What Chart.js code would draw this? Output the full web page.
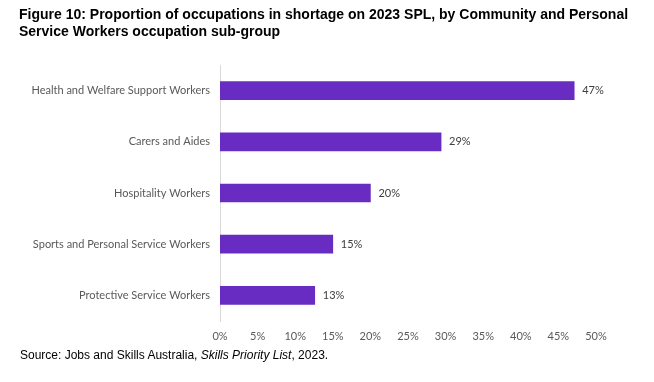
<!DOCTYPE html>
<html>
<head>
<meta charset="utf-8">
<script src="https://cdn.jsdelivr.net/npm/chart.js@4.4.1/dist/chart.umd.min.js"></script>
<style>
  html, body { margin: 0; padding: 0; background: #fff; }
  #wrap { position: relative; width: 654px; height: 382px; overflow: hidden; }
  #title { position: absolute; left: 19px; top: 6px; font-family: "Liberation Sans", Arial, sans-serif; font-weight: bold; font-size: 14px; line-height: 17px; color: #000; }
  #source { position: absolute; left: 20px; top: 348px; font-family: "Liberation Sans", Arial, sans-serif; font-size: 12px; color: #000; }
  canvas { position: absolute; left: 0; top: 0; }
</style>
</head>
<body>
<div id="wrap">
  <canvas id="c" width="654" height="382"></canvas>
  <div id="title">Figure 10: Proportion of occupations in shortage on 2023 SPL, by Community and Personal<br>Service Workers occupation sub-group</div>
  <div id="source">Source: Jobs and Skills Australia, <i>Skills Priority List</i>, 2023.</div>
</div>
<script>
const categories = [
  "Health and Welfare Support Workers",
  "Carers and Aides",
  "Hospitality Workers",
  "Sports and Personal Service Workers",
  "Protective Service Workers"
];
const values = [47.1, 29.4, 20, 15, 12.6];
const xTicks = [0, 5, 10, 15, 20, 25, 30, 35, 40, 45, 50];

const valueLabels = {
  id: 'valueLabels',
  afterDatasetsDraw(chart) {
    const ctx = chart.ctx;
    const meta = chart.getDatasetMeta(0);
    ctx.save();
    ctx.font = '11px Lato, "Open Sans", sans-serif';
    ctx.fillStyle = '#404040';
    ctx.textAlign = 'left';
    ctx.textBaseline = 'middle';
    meta.data.forEach((bar, i) => {
      ctx.fillText(Math.round(values[i]) + '%', bar.x + 8, bar.y);
    });
    ctx.restore();
  }
};

new Chart(document.getElementById('c'), {
  type: 'bar',
  data: {
    labels: categories,
    datasets: [{
      data: values,
      backgroundColor: '#692cc2',
      borderWidth: 0,
      barThickness: 18
    }]
  },
  options: {
    indexAxis: 'y',
    responsive: false,
    animation: false,
    layout: { padding: { top: 65, right: 58, bottom: 31, left: 0 } },
    plugins: { legend: { display: false }, tooltip: { enabled: false }, title: { display: false } },
    scales: {
      x: {
        min: 0, max: 50,
        afterBuildTicks(scale) { scale.ticks = xTicks.map(v => ({ value: v })); },
        afterFit(scale) { scale.height = 30; },
        grid: { display: false, drawTicks: false },
        border: { display: false },
        ticks: {
          padding: 9,
          color: '#595959',
          font: { family: 'Lato, "Open Sans", sans-serif', size: 11 },
          callback: v => v + '%'
        }
      },
      y: {
        afterFit(scale) { scale.width = 220; },
        grid: { display: false, drawTicks: false },
        border: { display: true, color: '#d9d9d9', width: 1 },
        ticks: {
          padding: 10,
          color: '#595959',
          font: { family: 'Lato, "Open Sans", sans-serif', size: 11 }
        }
      }
    }
  },
  plugins: [valueLabels]
});
</script>
</body>
</html>
